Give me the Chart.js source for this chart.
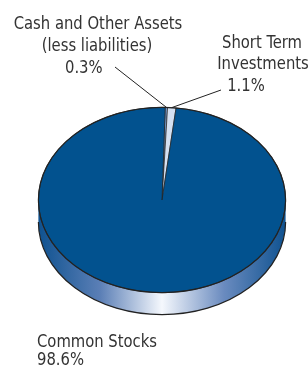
<!DOCTYPE html>
<html>
<head>
<meta charset="utf-8">
<script src="https://cdn.jsdelivr.net/npm/chart.js@4/dist/chart.umd.min.js"></script>
<style>
  html, body { margin: 0; padding: 0; background: #fff; }
  #wrap { position: relative; width: 308px; height: 367px; }
</style>
</head>
<body>
<div id="wrap"><canvas id="pie" width="308" height="367"></canvas></div>
<script>
"use strict"

// Chart data
const categories = ["Cash and Other Assets (less liabilities)", "Short Term Investments", "Common Stocks"];
const shares = [0.3, 1.1, 98.6];
const sliceColors = ["#7ba0d4", "#d4e0f1", "#02528f"];

// Label text per slice (lines)
const labelLines = [
    ["Cash and Other Assets", "(less liabilities)", "0.3%"],
    ["Short Term", "Investments", "1.1%"],
    ["Common Stocks", "98.6%"]
];

const tilt = 0.75;   // vertical squash of the pie
const depth = 22;    // thickness of the side
const squeeze = 0.94; // narrow the label font a little

// writes one line of narrow text
function narrowText(ctx, text, x, y, align) {
    ctx.save();
    ctx.translate(x, y);
    ctx.scale(squeeze, 1);
    ctx.textAlign = align;
    ctx.fillText(text, 0, 0);
    ctx.restore();
}

// Draws the side band, squashes the pie and writes the labels
const tiltPlugin = {
    id: "tilt",
    beforeDatasetsDraw(chart) {
        const ctx = chart.ctx;
        const arc = chart.getDatasetMeta(0).data[0];
        const cx = arc.x, cy = arc.y, r = arc.outerRadius;

        // side of the pie
        const grad = ctx.createLinearGradient(cx - r, 0, cx + r, 0);
        grad.addColorStop(0, "#0f5290");
        grad.addColorStop(0.25, "#5b7fb6");
        grad.addColorStop(0.5, "#f5f8fd");
        grad.addColorStop(0.75, "#6a8bbf");
        grad.addColorStop(1, "#0f5290");
        ctx.save();
        ctx.beginPath();
        ctx.ellipse(cx, cy + depth, r, r * tilt, 0, Math.PI, 0, true);
        ctx.lineTo(cx + r, cy);
        ctx.ellipse(cx, cy, r, r * tilt, 0, 0, Math.PI, false);
        ctx.closePath();
        ctx.fillStyle = grad;
        ctx.fill();
        ctx.beginPath();
        ctx.ellipse(cx, cy + depth, r, r * tilt, 0, Math.PI, 0, true);
        ctx.strokeStyle = "#222";
        ctx.lineWidth = 1.2;
        ctx.stroke();
        ctx.restore();

        // squash the top face
        ctx.save();
        ctx.translate(cx, cy);
        ctx.scale(1, tilt);
        ctx.translate(-cx, -cy);
    },
    afterDatasetsDraw(chart) {
        const ctx = chart.ctx;
        ctx.restore();

        const arc = chart.getDatasetMeta(0).data[0];
        const cx = arc.x, cy = arc.y, r = arc.outerRadius;

        // outline of the top face
        ctx.save();
        ctx.beginPath();
        ctx.ellipse(cx, cy, r, r * tilt, 0, 0, Math.PI * 2);
        ctx.strokeStyle = "#222";
        ctx.lineWidth = 1.2;
        ctx.stroke();
        ctx.restore();

        // leader lines from the two small slices
        const meta = chart.getDatasetMeta(0).data;
        const ends = [[115, 67], [221, 90]];
        ctx.save();
        ctx.strokeStyle = "#222";
        ctx.lineWidth = 1;
        for (let i = 0; i < 2; i++) {
            const a = (meta[i].startAngle + meta[i].endAngle) / 2;
            const px = cx + r * Math.cos(a);
            const py = cy + r * tilt * Math.sin(a);
            ctx.beginPath();
            ctx.moveTo(ends[i][0], ends[i][1]);
            ctx.lineTo(px, py);
            ctx.stroke();
        }
        ctx.restore();

        // labels
        ctx.save();
        ctx.fillStyle = "#333";
        ctx.font = "17.5px 'Liberation Sans Narrow', 'DejaVu Sans Condensed', sans-serif";
        ctx.textBaseline = "middle";
        narrowText(ctx, labelLines[0][0], 98, 24, "center");
        narrowText(ctx, labelLines[0][1], 97, 46, "center");
        narrowText(ctx, labelLines[0][2], 65, 68, "left");
        narrowText(ctx, labelLines[1][0], 262, 43, "center");
        narrowText(ctx, labelLines[1][1], 263, 64, "center");
        narrowText(ctx, labelLines[1][2], 246, 86, "center");
        narrowText(ctx, labelLines[2][0], 37, 342, "left");
        narrowText(ctx, labelLines[2][1], 37, 360, "left");
        ctx.restore();
    }
};

new Chart(document.getElementById("pie"), {
    type: "pie",
    data: {
        labels: categories,
        datasets: [{
            data: shares,
            backgroundColor: sliceColors,
            borderColor: "#222",
            borderWidth: 0.8
        }]
    },
    options: {
        responsive: false,
        animation: false,
        devicePixelRatio: 1,
        rotation: 1.5,
        layout: { padding: { left: 38, right: 22, top: 76, bottom: 43 } },
        plugins: {
            legend: { display: false },
            tooltip: { enabled: false }
        }
    },
    plugins: [tiltPlugin]
});
</script>
</body>
</html>
